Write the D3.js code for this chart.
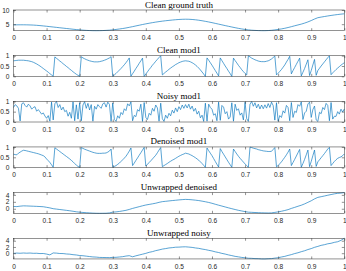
<!DOCTYPE html>
<html>
<head>
<meta charset="utf-8">
<script src="https://cdn.jsdelivr.net/npm/d3@7"></script>
<style>
    html, body { margin: 0; padding: 0; background: #fff; }
    svg { display: block; }
    .tick text { font-family: "Liberation Sans", Arial, sans-serif; font-size: 6.6px; }
    .title { font-family: "Liberation Serif", "Times New Roman", serif; font-size: 9px; fill: #000; }
</style>
</head>
<body>
<svg id="chart" width="346" height="271"></svg>
<script>
// x ticks shared by every panel
const xTicks = [0, 0.1, 0.2, 0.3, 0.4, 0.5, 0.6, 0.7, 0.8, 0.9, 1];

// y ticks per kind of panel
const gtTicks = [5, 10];
const modTicks = [0, 0.5, 1];
const unwrapTicks = [0, 2, 4];

// sampled every 0.01
const groundTruth = [
    4.75, 4.77, 4.78, 4.78, 4.76, 4.73, 4.68, 4.60, 4.50, 4.38,
    4.26, 4.13, 4.00, 3.87, 3.74, 3.61, 3.48, 3.35, 3.22, 3.10,
    3.00, 2.89, 2.81, 2.75, 2.71, 2.70, 2.71, 2.75, 2.81, 2.89,
    3.00, 3.14, 3.30, 3.47, 3.66, 3.89, 4.13, 4.38, 4.63, 4.88,
    5.11, 5.33, 5.54, 5.73, 5.91, 6.07, 6.21, 6.34, 6.46, 6.57,
    6.66, 6.72, 6.75, 6.73, 6.66, 6.55, 6.40, 6.21, 6.00, 5.78,
    5.54, 5.28, 5.02, 4.76, 4.50, 4.25, 4.00, 3.76, 3.53, 3.32,
    3.14, 2.99, 2.88, 2.80, 2.74, 2.71, 2.71, 2.75, 2.84, 2.98,
    3.15, 3.33, 3.55, 3.82, 4.12, 4.43, 4.73, 5.02, 5.38, 5.80,
    6.28, 6.82, 7.28, 7.50, 7.70, 7.90, 8.08, 8.25, 8.40, 8.54,
    8.66
];

// sampled every 0.005
const cleanMod1 = [
    .75, .76, .77, .78, .78, .78, .78, .77, .76, .75,
    .73, .71, .68, .64, .60, .55, .50, .44, .38, .32,
    .26, .20, .13, .07, 0, .94, .87, .81, .74, .68,
    .61, .55, .48, .42, .35, .29, .22, .16, .10, .05,
    0, .95, .89, .85, .81, .78, .75, .73, .71, .70,
    .70, .70, .71, .73, .75, .78, .81, .85, .89, .95,
    0, .07, .14, .22, .30, .38, .47, .56, .66, .77,
    .89, .01, .13, .25, .38, .50, .63, .75, .88, 0,
    .11, .22, .33, .43, .54, .63, .73, .82, .91, .99,
    .07, .14, .21, .27, .34, .40, .46, .51, .57, .61,
    .66, .69, .72, .74, .75, .74, .73, .70, .66, .61,
    .55, .48, .40, .31, .21, .11, 0, .89, .78, .66,
    .54, .41, .28, .15, .02, .89, .76, .63, .50, .38,
    .25, .13, 0, .88, .76, .65, .53, .43, .32, .23,
    .14, .07, .99, .94, .88, .84, .80, .77, .74, .72,
    .71, .71, .71, .73, .75, .79, .84, .91, .98, .07,
    .15, .24, .33, .44, .55, .69, .82, .97, .12, .28,
    .43, .58, .73, .88, .02, .20, .38, .59, .80, .04,
    .28, .55, .82, .05, .28, .39, .50, .60, .70, .80,
    .90, .99, .08, .17, .25, .33, .40, .47, .54, .60,
    .66
];

// sampled every 0.005
const noisyMod1 = [
    .70, .84, .78, .66, .05, .88, .93, .80, .72, .86,
    .78, .62, .70, .74, .52, .60, .49, .38, .44, .29,
    .18, .31, .04, .96, .10, .88, .99, .70, .84, .58,
    .72, .50, .56, .28, .47, .18, .97, .06, .83, .14,
    .93, .06, .82, .98, .66, .90, .58, .84, .04, .76,
    .62, .84, .74, .66, .88, .93, .72, .96, .85, .03,
    .92, .12, .03, .30, .18, .46, .36, .64, .55, .88,
    .78, .97, .06, .32, .26, .60, .52, .86, .03, .94,
    .22, .12, .42, .33, .66, .52, .82, .68, .04, .91,
    .16, .03, .33, .18, .42, .30, .57, .43, .68, .50,
    .74, .60, .82, .66, .84, .68, .86, .62, .77, .52,
    .66, .38, .52, .20, .33, .03, .91, .04, .86, .70,
    .62, .33, .40, .06, .96, .08, .80, .72, .40, .50,
    .14, .24, .93, .04, .86, .56, .64, .33, .44, .10,
    .96, .16, .03, .86, .99, .76, .93, .68, .86, .63,
    .82, .64, .83, .67, .89, .70, .96, .79, .09, .93,
    .04, .31, .22, .54, .43, .80, .70, .06, .94, .22,
    .52, .46, .84, .76, .97, .12, .44, .52, .87, .96,
    .22, .60, .77, .10, .03, .47, .40, .70, .60, .90,
    .80, .06, .94, .14, .28, .27, .50, .38, .62, .48,
    .63
];

// sampled every 0.005
const denoisedMod1 = [
    .65, .63, .62, .70, .75, .80, .84, .83, .81, .79,
    .77, .75, .73, .71, .69, .67, .64, .61, .58, .52,
    .42, .34, .25, .14, .02, .96, .90, .84, .78, .72,
    .66, .60, .54, .48, .42, .35, .28, .20, .12, .06,
    .01, .97, .93, .89, .86, .83, .80, .77, .74, .72,
    .70, .69, .69, .69, .70, .70, .71, .75, .80, .90,
    .02, .06, .10, .16, .22, .30, .38, .46, .55, .67,
    .80, .95, .10, .22, .35, .47, .60, .72, .85, .98,
    .08, .16, .25, .33, .42, .51, .60, .72, .85, .97,
    .05, .10, .15, .20, .26, .31, .36, .40, .45, .50,
    .55, .59, .63, .66, .70, .68, .66, .62, .58, .53,
    .48, .42, .36, .28, .20, .11, .02, .95, .82, .70,
    .58, .44, .30, .16, .03, .92, .78, .65, .52, .39,
    .26, .14, .02, .90, .78, .66, .55, .45, .36, .27,
    .18, .10, .02, .99, .97, .94, .92, .90, .87, .85,
    .83, .81, .80, .79, .78, .78, .79, .88, .97, .04,
    .10, .19, .28, .39, .50, .62, .75, .90, .10, .25,
    .40, .56, .72, .88, .02, .20, .40, .62, .85, .05,
    .30, .58, .85, .06, .28, .38, .48, .58, .68, .79,
    .90, .98, .10, .20, .30, .38, .45, .49, .52, .58,
    .66
];

// sampled every 0.01
const unwrappedDenoised = [
    0.65, 0.62, 0.75, 0.84, 0.81, 0.77, 0.73, 0.69, 0.64, 0.58,
    0.42, 0.25, 0.02, -0.10, -0.22, -0.34, -0.46, -0.58, -0.72, -0.88,
    -0.99, -1.07, -1.14, -1.20, -1.26, -1.30, -1.31, -1.30, -1.29, -1.20,
    -0.98, -0.90, -0.78, -0.62, -0.45, -0.20, 0.10, 0.35, 0.60, 0.85,
    1.08, 1.25, 1.42, 1.60, 1.85, 2.05, 2.15, 2.26, 2.36, 2.45,
    2.55, 2.63, 2.70, 2.66, 2.58, 2.48, 2.36, 2.20, 2.02, 1.82,
    1.58, 1.30, 1.03, 0.78, 0.52, 0.26, 0.02, -0.22, -0.45, -0.64,
    -0.82, -0.98, -1.03, -1.08, -1.13, -1.17, -1.20, -1.22, -1.20, -1.05,
    -0.90, -0.72, -0.50, -0.25, 0.10, 0.40, 0.72, 1.02, 1.40, 1.85,
    2.30, 2.85, 3.28, 3.48, 3.68, 3.90, 4.10, 4.30, 4.45, 4.52,
    4.66
];

// sampled every 0.01
const unwrappedNoisy = [
    -0.05, 0.04, -0.02, 0.06, 0.00, 0.05, -0.04, -0.02, -0.12, -0.10,
    -0.28, -0.55, 0.08, 0.02, -0.10, -0.12, -0.25, -0.32, -0.48, -0.58,
    -0.75, -0.82, -0.95, -1.08, -1.20, -1.25, -1.36, -1.38, -1.40, -1.42,
    -1.35, -1.32, -1.22, -1.12, -0.92, -0.80, -1.15, -0.85, -0.58, -0.32,
    -0.05, 0.28, 0.50, 0.82, 1.05, 1.32, 1.48, 1.68, 1.78, 1.92,
    1.95, 2.02, 2.05, 1.96, 1.86, 1.68, 1.56, 1.33, 1.16, 0.92,
    0.72, 0.43, 0.22, -0.06, -0.28, -0.56, -0.78, -1.02, -1.18, -1.36,
    -1.48, -1.62, -1.66, -1.74, -1.76, -1.84, -1.85, -1.78, -1.74, -1.58,
    -1.46, -1.22, -1.02, -0.72, -0.46, -0.12, 0.14, 0.48, 0.78, 1.17,
    1.48, 1.88, 2.18, 2.52, 2.73, 3.02, 3.18, 3.48, 3.68, 4.12,
    4.80
];

const config = {
    left: 13.5,
    right: 344.3,
    firstTop: 10,
    step: 45.65,
    height: 20.7,
    axisColor: "#262626",
    lineColor: "#0072BD",
    tickLen: 2.5
};

const panels = [
    { title: "Clean ground truth", values: groundTruth, yDomain: [d3.min(groundTruth), 10], yTicks: gtTicks },
    { title: "Clean mod1", values: cleanMod1, yDomain: [0, 1], yTicks: modTicks },
    { title: "Noisy mod1", values: noisyMod1, yDomain: [0, 1], yTicks: modTicks },
    { title: "Denoised mod1", values: denoisedMod1, yDomain: [0, 1], yTicks: modTicks },
    { title: "Unwrapped denoised", values: unwrappedDenoised, yDomain: d3.extent(unwrappedDenoised), yTicks: unwrapTicks },
    { title: "Unwrapped noisy", values: unwrappedNoisy, yDomain: d3.extent(unwrappedNoisy), yTicks: unwrapTicks }
];

const svg = d3.select("#chart");

panels.forEach((p, i) => drawPanel(p, config.firstTop + i * config.step));

function drawPanel(p, top) {
    const bottom = top + config.height;
    const x = d3.scaleLinear().domain([0, 1]).range([config.left, config.right]);
    const y = d3.scaleLinear().domain(p.yDomain).range([bottom, top]);
    const n = p.values.length;

    const g = svg.append("g");

    g.append("path")
        .datum(p.values)
        .attr("fill", "none")
        .attr("stroke", config.lineColor)
        .attr("stroke-width", 0.65)
        .attr("stroke-linejoin", "round")
        .attr("d", d3.line().x((d, i) => x(i / (n - 1))).y(d => y(d)));

    const fmt = d3.format("~g");

    g.append("g")
        .attr("color", config.axisColor)
        .attr("transform", `translate(0, ${bottom})`)
        .call(d3.axisBottom(x).tickValues(xTicks).tickSize(-config.tickLen).tickPadding(5).tickFormat(fmt))
        .call(a => a.select(".domain").remove());

    g.append("g")
        .attr("color", config.axisColor)
        .attr("transform", `translate(0, ${top})`)
        .call(d3.axisTop(x).tickValues(xTicks).tickSize(-config.tickLen).tickFormat(""))
        .call(a => a.select(".domain").remove());

    g.append("g")
        .attr("color", config.axisColor)
        .attr("transform", `translate(${config.left}, 0)`)
        .call(d3.axisLeft(y).tickValues(p.yTicks).tickSize(-config.tickLen).tickPadding(4).tickFormat(fmt))
        .call(a => a.select(".domain").remove());

    g.append("g")
        .attr("color", config.axisColor)
        .attr("transform", `translate(${config.right}, 0)`)
        .call(d3.axisRight(y).tickValues(p.yTicks).tickSize(-config.tickLen).tickFormat(""))
        .call(a => a.select(".domain").remove());

    g.selectAll(".tick line").attr("stroke-width", 0.5);

    g.append("rect")
        .attr("x", config.left)
        .attr("y", top)
        .attr("width", config.right - config.left)
        .attr("height", config.height)
        .attr("fill", "none")
        .attr("stroke", config.axisColor)
        .attr("stroke-width", 0.5);

    g.append("text")
        .attr("class", "title")
        .attr("x", (config.left + config.right) / 2)
        .attr("y", top - 2.5)
        .attr("text-anchor", "middle")
        .text(p.title);
}
</script>
</body>
</html>
